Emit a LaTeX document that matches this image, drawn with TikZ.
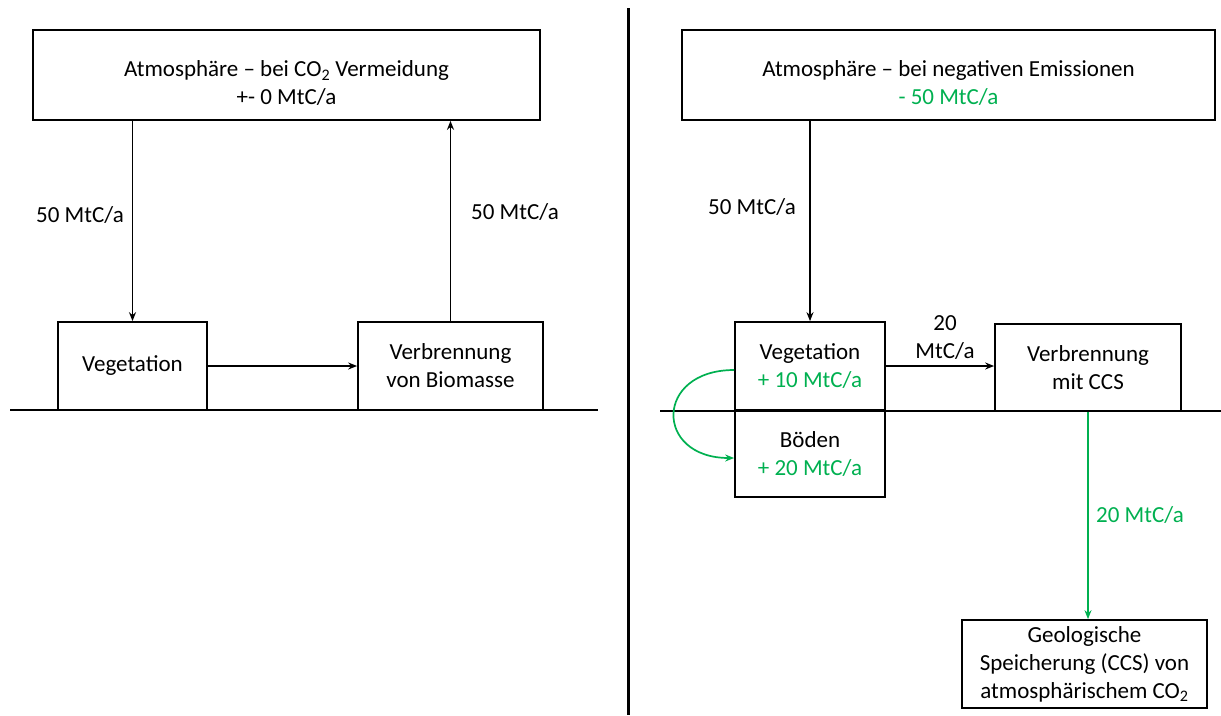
\documentclass[tikz,border=0pt]{standalone}
\usepackage{fontspec}
\setmainfont{Carlito}
\usetikzlibrary{arrows.meta,positioning}
\definecolor{ccsgreen}{RGB}{0,176,80}
\tikzset{
  box/.style={draw,line width=1.7pt,align=center,inner sep=0pt},
  flow/.style={line width=1.7pt,-{Stealth[length=9pt,width=7pt]}},
  gflow/.style={flow,draw=ccsgreen},
  lbl/.style={align=center},
  atmtext/.style={align=center,yshift=-8pt}
}
\begin{document}
\begin{tikzpicture}[x=1pt,y=-1pt,font=\fontsize{23}{28}\selectfont]
  \useasboundingbox (0,0) rectangle (1221,715);
  % linke Seite: Vermeidung
  \node[box,minimum width=507pt,minimum height=90pt,
    label={[atmtext]center:Atmosphäre -- bei CO\textsubscript{2} Vermeidung\\+- 0 MtC/a}] (atmL) at (286.5,75) {};
  \node[box,minimum width=149pt,minimum height=88pt] (vegL) at (132.5,366) {Vegetation};
  \node[box,minimum width=185pt,minimum height=88pt] (burnL) at (450.5,366)
    {Verbrennung\\von Biomasse};
  \draw[line width=1.7pt] (10,410)--(598,410);
  \draw[flow] (atmL.south -| vegL.north)--(vegL.north);
  \draw[flow] (vegL)--(burnL);
  \draw[flow] (burnL.north)--(burnL.north |- atmL.south);
  \node[lbl] (inL) at (80,215) {50 MtC/a};
  \node[lbl] (outL) at (515,212) {50 MtC/a};
  % Trennlinie
  \draw[line width=3pt] (628,8)--(628,715);
  % rechte Seite: negative Emissionen
  \node[box,minimum width=533pt,minimum height=90pt,
    label={[atmtext]center:Atmosphäre -- bei negativen Emissionen\\\textcolor{ccsgreen}{- 50 MtC/a}}] (atmR) at (948.5,75) {};
  \node[box,minimum width=150pt,minimum height=88pt] (vegR) at (810,366)
    {Vegetation\\\textcolor{ccsgreen}{+ 10 MtC/a}};
  \node[box,minimum width=150pt,minimum height=87pt] (soilR) at (810,453.5)
    {Böden\\\textcolor{ccsgreen}{+ 20 MtC/a}};
  \node[box,minimum width=186pt,minimum height=87pt] (burnR) at (1088,367.5)
    {Verbrennung\\mit CCS};
  \node[box,minimum width=245pt,minimum height=88pt] (geoR) at (1084.5,664)
    {Geologische\\Speicherung (CCS) von\\atmosphärischem CO\textsubscript{2}};
  \draw[line width=1.7pt] (660,411)--(1221,411);
  \draw[flow] (atmR.south -| vegR.north)--(vegR.north);
  \draw[flow] (vegR.east)--(vegR.east -| burnR.west);
  \draw[gflow] ([yshift=-4pt]vegR.west) .. controls +(-80,0) and +(-80,0) .. ([yshift=-4.5pt]soilR.west);
  \draw[gflow] (burnR.south)--(burnR.south |- geoR.north);
  \node[lbl] (inR) at (752,207) {50 MtC/a};
  \node[lbl] (midR) at (945,338) {20\\MtC/a};
  \node[lbl,text=ccsgreen] (ccsR) at (1140,515) {20 MtC/a};
\end{tikzpicture}
\end{document}
